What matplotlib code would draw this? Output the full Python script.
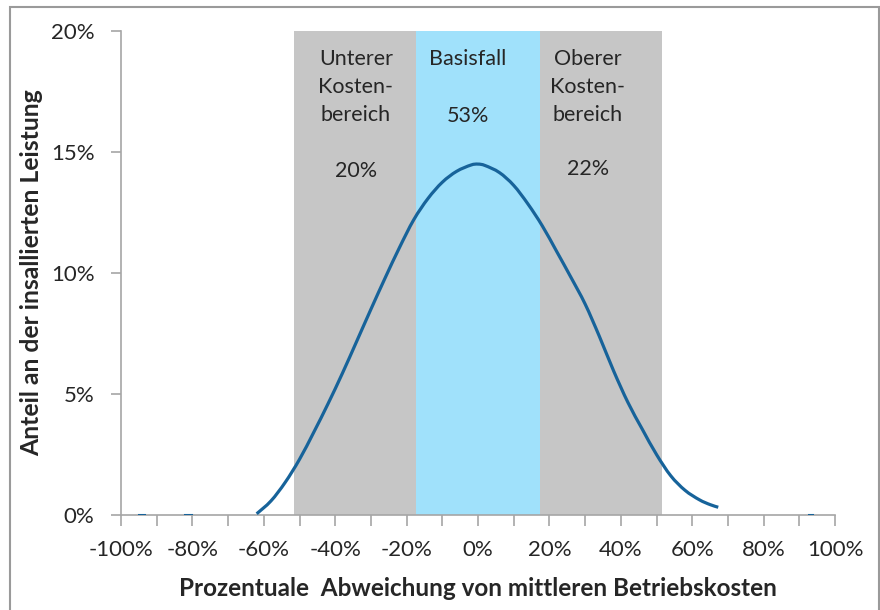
import matplotlib
matplotlib.use("Agg")
import matplotlib.pyplot as plt
from matplotlib.patches import Rectangle, PathPatch
from matplotlib.path import Path
from matplotlib.ticker import MultipleLocator, FuncFormatter

# Data (percent)
curve_x = [-62, -58, -54, -50, -46, -42, -38, -34, -30, -26, -22, -18, -14, -10, -6, -2, 0,
           2, 6, 10, 14, 18, 22, 26, 30, 34, 38, 42, 46, 50, 54, 58, 62, 65, 67.3]
curve_y = [0.05, 0.58, 1.35, 2.3, 3.42, 4.6, 5.85, 7.17, 8.5, 9.8, 11.05, 12.2, 13.08, 13.75, 14.2, 14.46, 14.5,
           14.44, 14.15, 13.62, 12.85, 11.95, 10.9, 9.83, 8.72, 7.38, 5.95, 4.65, 3.55, 2.5, 1.62, 1.02, 0.63, 0.43, 0.32]
zero_segments = [(-95, -93.5), (-82, -80.5), (92.6, 93.6)]

band_edges = [-51.5, -17.5, 17.5, 51.5]
band_labels = ["Unterer\nKosten-\nbereich", "Basisfall", "Oberer\nKosten-\nbereich"]
band_shares = ["20%", "53%", "22%"]

xlabel = "Prozentuale  Abweichung von mittleren Betriebskosten"
ylabel = "Anteil an der insallierten Leistung"

plt.rcParams['font.family'] = ['Lato', 'DejaVu Sans']

fig = plt.figure(figsize=(8.8, 6.1), dpi=100)
ax = fig.add_axes([121/880, 95/610, 714/880, 484/610])

gray = "#c6c6c6"
light_blue = "#a0e1fb"
line_col = "#17639a"
txt_col = "#262626"

ax.axvspan(band_edges[0], band_edges[1], ymin=0, ymax=1, color=gray, lw=0, zorder=0)
ax.axvspan(band_edges[1], band_edges[2], ymin=0, ymax=1, color=light_blue, lw=0, zorder=0)
ax.axvspan(band_edges[2], band_edges[3], ymin=0, ymax=1, color=gray, lw=0, zorder=0)

ax.set_xlim(-100, 100)
ax.set_ylim(0, 20)


def smooth_path(xs, ys, t=1/6):
    """Catmull-Rom style smoothed line through the data points (like a spreadsheet smoothed line)."""
    verts = [(xs[0], ys[0])]
    codes = [Path.MOVETO]
    n = len(xs)
    for i in range(n - 1):
        x0, y0 = (xs[i - 1], ys[i - 1]) if i > 0 else (xs[i], ys[i])
        x1, y1 = xs[i], ys[i]
        x2, y2 = xs[i + 1], ys[i + 1]
        x3, y3 = (xs[i + 2], ys[i + 2]) if i + 2 < n else (xs[i + 1], ys[i + 1])
        c1 = (x1 + (x2 - x0) * t, y1 + (y2 - y0) * t)
        c2 = (x2 - (x3 - x1) * t, y2 - (y3 - y1) * t)
        verts += [c1, c2, (x2, y2)]
        codes += [Path.CURVE4] * 3
    return Path(verts, codes)


ax.add_patch(PathPatch(smooth_path(curve_x, curve_y), fill=False, edgecolor=line_col,
                       lw=2.3, capstyle='butt', zorder=3))
for a, b in zero_segments:
    ax.plot([a, b], [0, 0], color=line_col, lw=2.2, zorder=3)

ax.xaxis.set_major_locator(MultipleLocator(20))
ax.xaxis.set_minor_locator(MultipleLocator(10))
ax.yaxis.set_major_locator(MultipleLocator(5))
ax.xaxis.set_major_formatter(FuncFormatter(lambda v, p: f"{v:.0f}%"))
ax.yaxis.set_major_formatter(FuncFormatter(lambda v, p: f"{v:.0f}%"))

for s in ["top", "right"]:
    ax.spines[s].set_visible(False)
for s in ["left", "bottom"]:
    ax.spines[s].set_color("#a6a6a6")
    ax.spines[s].set_linewidth(1.2)

ax.tick_params(axis='both', which='both', color="#a6a6a6", width=1.2, direction='out',
               labelsize=16, labelcolor=txt_col)
ax.tick_params(axis='x', which='both', length=8, pad=10)
ax.tick_params(axis='y', which='major', length=7, pad=12)

ax.set_xlabel(xlabel, fontsize=17.5, fontweight='bold', color=txt_col, labelpad=12)
ax.set_ylabel(ylabel, fontsize=17.8, fontweight='bold', color=txt_col, labelpad=6)

centers = [-34.2, -2.8, 30.8]
share_y = [14.2, 16.5, 14.3]
for c, lab, sh, sy in zip(centers, band_labels, band_shares, share_y):
    ax.text(c, 19.25, lab, ha='center', va='top', fontsize=15.5, color=txt_col,
            linespacing=1.5, zorder=4)
    ax.text(c, sy, sh, ha='center', va='center', fontsize=15.5, color=txt_col, zorder=4)

# figure frame
fig.add_artist(Rectangle((10/880, -0.02), 869/880, 1.02 - 7/610, transform=fig.transFigure,
                         fill=False, edgecolor="#9a9a9a", lw=1.5))

fig.savefig("out.png", dpi=100)
